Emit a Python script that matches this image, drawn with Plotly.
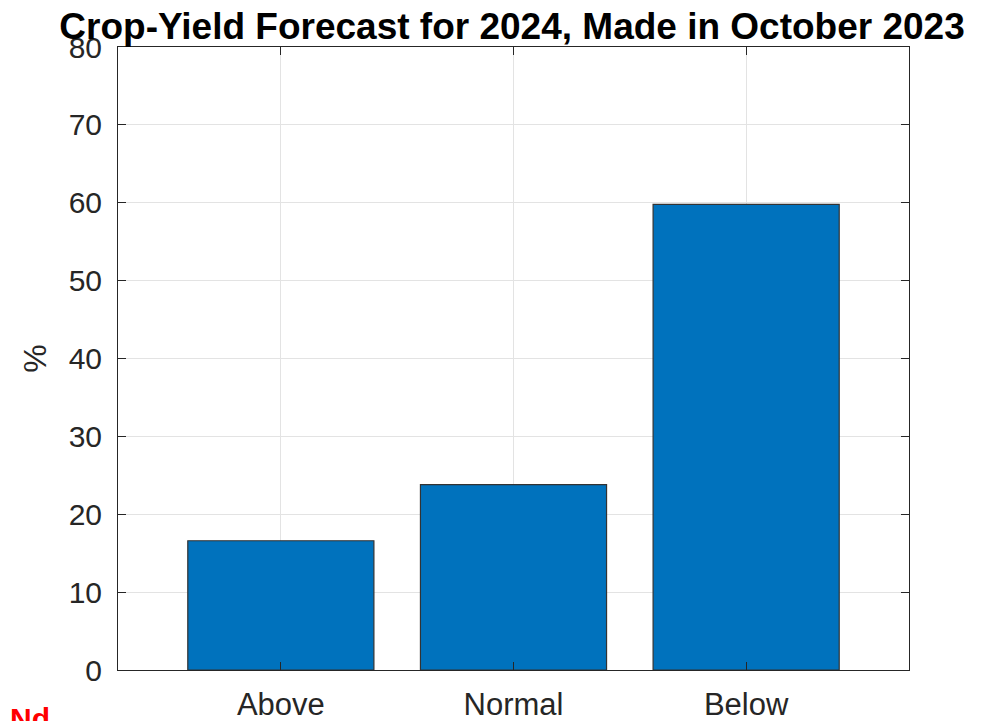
import plotly.graph_objects as go

categories = ["Above", "Normal", "Below"]
positions = [1, 2, 3]
percent = [16.6, 23.8, 59.8]
y_ticks = [0, 10, 20, 30, 40, 50, 60, 70, 80]

AXIS_COLOR = "#262626"
GRID_COLOR = "#e3e3e3"
FONT = "Liberation Sans, Arial, sans-serif"

fig = go.Figure(
    go.Bar(
        x=positions,
        y=percent,
        width=0.8,
        marker={"color": "#0072bd", "line": {"color": "#333333", "width": 1.2}},
    )
)

# page body adds an 8px margin, so the figure is sized to fit inside it
fig.update_layout(
    width=975,
    height=713,
    margin={"l": 110, "r": 74, "t": 39, "b": 51},
    paper_bgcolor="white",
    plot_bgcolor="white",
    showlegend=False,
    font={"family": FONT, "color": AXIS_COLOR},
    title={
        "text": "<b>Crop-Yield Forecast for 2024, Made in October 2023</b>",
        "x": 0.517,
        "xanchor": "center",
        "y": 0.975,
        "yanchor": "middle",
        "font": {"size": 37, "color": "black", "family": FONT},
    },
)

fig.update_xaxes(
    range=[0.3, 3.7],
    tickvals=positions,
    ticktext=categories,
    tickfont={"size": 31},
    ticks="inside",
    ticklen=8,
    tickcolor=AXIS_COLOR,
    ticklabelstandoff=7,
    showgrid=True,
    gridcolor=GRID_COLOR,
    showline=True,
    linecolor=AXIS_COLOR,
    linewidth=1,
    mirror="ticks",
    zeroline=False,
    automargin=False,
)

fig.update_yaxes(
    range=[0, 80],
    tickvals=y_ticks,
    tickfont={"size": 30},
    ticks="inside",
    ticklen=8,
    tickcolor=AXIS_COLOR,
    ticklabelstandoff=9,
    showgrid=True,
    gridcolor=GRID_COLOR,
    showline=True,
    linecolor=AXIS_COLOR,
    linewidth=1,
    mirror="ticks",
    zeroline=False,
    automargin=False,
    title={"text": "%", "font": {"size": 32}, "standoff": 12},
)

fig.add_annotation(
    text="<b>Nd</b>",
    xref="paper",
    yref="paper",
    x=-0.139,
    y=-0.048,
    xanchor="left",
    yanchor="top",
    showarrow=False,
    font={"size": 30, "color": "red", "family": FONT},
)

fig.write_html("out.html")
